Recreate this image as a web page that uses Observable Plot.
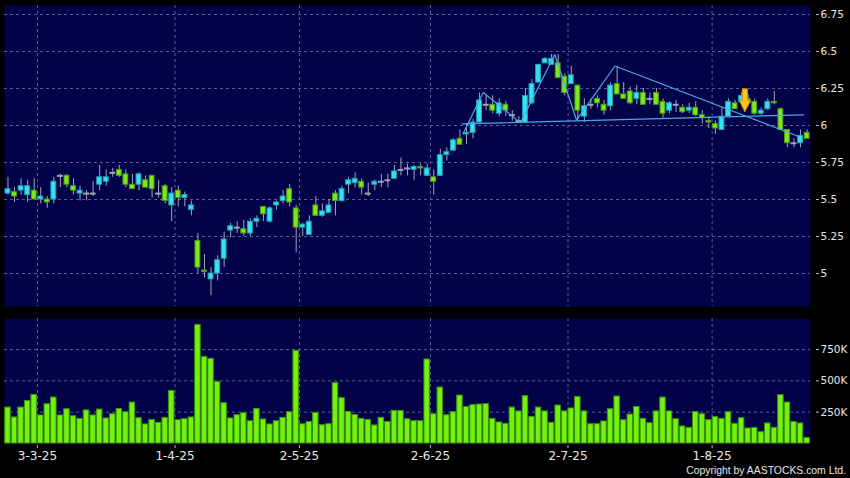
<!DOCTYPE html>
<html><head><meta charset="utf-8">
<script src="https://cdn.jsdelivr.net/npm/d3@7"></script>
<script src="https://cdn.jsdelivr.net/npm/@observablehq/plot@0.6"></script>
<style>
html,body{margin:0;padding:0;background:#000;}
#wrap{position:relative;width:850px;height:478px;background:#000;overflow:hidden;font-family:"DejaVu Sans",sans-serif;}
#wrap > svg{display:block;}
#copy{position:absolute;right:4px;top:464px;font-family:"Liberation Sans",Arial,sans-serif;font-size:10.4px;line-height:13px;color:#e6e6e6;white-space:nowrap;}
</style></head><body><div id="wrap"></div>
<script>
// ---- data (index 0 = 24-2-25 ... 122 = 21-8-25) ----
const open  = [5.54,5.55,5.56,5.53,5.56,5.50,5.50,5.50,5.66,5.66,5.59,5.54,5.54,5.54,5.60,5.62,5.68,5.70,5.67,5.60,5.60,5.63,5.66,5.54,5.59,5.46,5.56,5.51,5.43,5.22,5.02,4.96,5.00,5.10,5.29,5.31,5.30,5.27,5.35,5.45,5.35,5.46,5.49,5.57,5.44,5.31,5.26,5.46,5.39,5.41,5.54,5.49,5.60,5.61,5.62,5.54,5.60,5.62,5.63,5.64,5.70,5.71,5.70,5.72,5.66,5.65,5.66,5.80,5.83,5.91,5.94,5.95,6.02,6.14,6.14,6.08,6.14,6.07,6.03,6.02,6.15,6.29,6.42,6.41,6.42,6.33,6.28,6.27,6.06,6.14,6.18,6.14,6.13,6.28,6.21,6.23,6.18,6.22,6.18,6.22,6.16,6.10,6.14,6.12,6.10,6.12,6.07,6.03,6.01,5.97,6.06,6.15,6.16,6.18,6.16,6.08,6.11,6.16,6.11,5.97,5.88,5.88,5.95];
const high  = [5.65,5.58,5.64,5.63,5.64,5.58,5.52,5.65,5.67,5.67,5.64,5.59,5.56,5.62,5.73,5.70,5.71,5.73,5.70,5.67,5.68,5.66,5.66,5.63,5.60,5.58,5.59,5.55,5.49,5.27,5.13,5.04,5.12,5.28,5.34,5.35,5.36,5.37,5.39,5.45,5.45,5.49,5.56,5.60,5.46,5.34,5.39,5.52,5.47,5.50,5.56,5.59,5.65,5.68,5.64,5.61,5.63,5.67,5.67,5.73,5.78,5.74,5.73,5.74,5.74,5.70,5.84,5.85,5.91,5.97,6.01,6.04,6.22,6.20,6.20,6.18,6.16,6.10,6.06,6.25,6.31,6.41,6.46,6.48,6.48,6.35,6.40,6.27,6.18,6.18,6.20,6.17,6.29,6.40,6.29,6.26,6.27,6.25,6.22,6.25,6.18,6.16,6.17,6.14,6.15,6.16,6.10,6.06,6.03,6.12,6.18,6.17,6.22,6.21,6.18,6.12,6.18,6.23,6.12,5.97,5.91,5.97,5.97];
const low   = [5.53,5.48,5.53,5.48,5.50,5.47,5.44,5.47,5.58,5.58,5.53,5.49,5.49,5.52,5.56,5.59,5.65,5.65,5.58,5.57,5.56,5.58,5.51,5.51,5.47,5.35,5.45,5.45,5.39,5.00,4.97,4.85,4.95,5.04,5.24,5.27,5.25,5.25,5.31,5.35,5.34,5.43,5.47,5.45,5.14,5.25,5.26,5.39,5.38,5.41,5.39,5.48,5.54,5.58,5.53,5.52,5.56,5.58,5.58,5.64,5.66,5.66,5.63,5.66,5.66,5.53,5.66,5.76,5.83,5.87,5.87,5.91,6.02,6.10,6.08,6.06,6.06,6.03,6.02,6.02,6.14,6.29,6.42,6.41,6.32,6.20,6.28,6.04,6.02,6.11,6.12,6.07,6.10,6.21,6.18,6.14,6.14,6.14,6.14,6.14,6.05,6.08,6.09,6.08,6.08,6.06,6.01,5.98,5.94,5.97,6.06,6.11,6.14,6.13,6.07,6.07,6.10,6.14,5.97,5.85,5.85,5.85,5.91];
const close = [5.57,5.52,5.59,5.59,5.50,5.52,5.48,5.62,5.66,5.60,5.56,5.56,5.54,5.54,5.65,5.65,5.68,5.66,5.60,5.57,5.67,5.58,5.57,5.54,5.49,5.54,5.51,5.53,5.46,5.04,5.01,5.00,5.09,5.23,5.32,5.31,5.27,5.35,5.37,5.40,5.44,5.48,5.52,5.48,5.31,5.33,5.35,5.39,5.42,5.46,5.49,5.57,5.63,5.64,5.58,5.54,5.62,5.62,5.63,5.69,5.70,5.71,5.72,5.71,5.71,5.62,5.80,5.82,5.90,5.87,5.95,6.02,6.17,6.14,6.10,6.15,6.10,6.07,6.03,6.20,6.28,6.41,6.45,6.45,6.32,6.22,6.34,6.10,6.13,6.14,6.15,6.10,6.27,6.21,6.18,6.15,6.22,6.14,6.18,6.14,6.08,6.15,6.14,6.09,6.12,6.07,6.05,6.02,5.98,6.06,6.16,6.11,6.20,6.15,6.08,6.10,6.16,6.15,5.97,5.88,5.88,5.93,5.91];
const volumeK = [287,208,287,340,388,224,314,367,224,274,218,197,264,224,271,200,234,276,250,327,202,152,188,165,205,420,186,194,208,947,692,676,492,322,200,226,242,178,276,192,152,178,205,250,740,154,172,244,146,154,482,362,252,228,197,188,144,205,172,260,260,194,178,178,671,234,447,226,250,383,292,306,311,314,197,168,157,287,256,378,212,287,256,165,303,256,280,372,256,154,154,176,274,375,186,231,292,197,162,256,367,256,194,136,125,252,234,186,212,197,250,157,202,120,125,90,160,125,386,327,172,160,45];

const tickIndex  = [5, 26, 45, 65, 86, 108];
const tickLabels = ["3-3-25", "1-4-25", "2-5-25", "2-6-25", "2-7-25", "1-8-25"];
const priceTicks = [5, 5.25, 5.5, 5.75, 6, 6.25, 6.5, 6.75];
const volTicks   = [250000, 500000, 750000];

// pattern annotation lines (index, price)
const zigX  = [69.47, 72.55, 78.24, 83.48, 86.8, 92.67, 120.7];
const zigY  = [5.944, 6.223, 6.018, 6.480, 6.037, 6.402, 5.926];
const neckX = [69.34, 121.5];
const neckY = [6.011, 6.072];
const arrowX = [112.5];
const arrowY = [6.17];

// ---- build ----
const NAVY = "#020249", GRID = "#5b5b98", WICK = "#a4a4b4";
const CYAN = "#35e2f2", CYAN_E = "#1f9fb6", GREEN = "#7ee81f", GREEN_E = "#4d9914";
const bars = open.map((o, i) => ({i, o, h: high[i], l: low[i], c: close[i], v: volumeK[i] * 1000}));
const ups = bars.filter(d => d.c > d.o);
const downs = bars.filter(d => d.c < d.o);
const dojis = bars.filter(d => d.c === d.o);
const zig = zigX.map((x, k) => ({x, y: zigY[k]}));
const neck = neckX.map((x, k) => ({x, y: neckY[k]}));
const arrows = arrowX.map((x, k) => ({x, y: arrowY[k]}));
const gridPos = tickIndex.map(t => t - 0.5);
const xDomain = [-0.53, 122.52];

const arrowSymbol = {
  draw(ctx) {
    ctx.moveTo(-2.6, -11.5); ctx.lineTo(2.6, -11.5); ctx.lineTo(2.6, 0);
    ctx.lineTo(5.6, 0); ctx.lineTo(0, 11.5); ctx.lineTo(-5.6, 0);
    ctx.lineTo(-2.6, 0); ctx.closePath();
  }
};

const baseStyle = {background: "transparent", color: "#e6e6e6", fontFamily: "DejaVu Sans", fontSize: "10.5px", overflow: "visible"};

const topChart = Plot.plot({
  width: 850, height: 312,
  marginTop: 5, marginBottom: 6, marginLeft: 4, marginRight: 40,
  style: baseStyle,
  x: {domain: xDomain, axis: null},
  y: {domain: [4.777, 6.811], axis: null},
  marks: [
    Plot.frame({fill: NAVY, stroke: null}),
    Plot.gridY(priceTicks, {stroke: GRID, strokeOpacity: 1, strokeDasharray: "3,3"}),
    Plot.gridX(gridPos, {stroke: GRID, strokeOpacity: 1, strokeDasharray: "3,3"}),
    Plot.axisY(priceTicks, {anchor: "right", label: null, tickSize: 3, tickPadding: 2, dx: 5, stroke: "#b8b8b8", tickFormat: d => String(d)}),
    Plot.ruleX(bars, {x: "i", y1: "l", y2: "h", stroke: WICK, strokeWidth: 1}),
    Plot.rect(ups, {x1: d => d.i - 0.37, x2: d => d.i + 0.37, y1: "o", y2: "c", fill: CYAN, stroke: CYAN_E, strokeWidth: 1}),
    Plot.rect(downs, {x1: d => d.i - 0.37, x2: d => d.i + 0.37, y1: "o", y2: "c", fill: GREEN, stroke: GREEN_E, strokeWidth: 1}),
    Plot.ruleY(dojis, {y: "o", x1: d => d.i - 0.45, x2: d => d.i + 0.45, stroke: WICK, strokeWidth: 2}),
    Plot.line(zig, {x: "x", y: "y", stroke: "#4aa8e6", strokeWidth: 1.2}),
    Plot.line(neck, {x: "x", y: "y", stroke: "#4aa8e6", strokeWidth: 1.2}),
    Plot.dot(arrows, {x: "x", y: "y", symbol: arrowSymbol, r: 5, fill: "#ffc81a", stroke: "#d88a00", strokeWidth: 1})
  ]
});

const bottomChart = Plot.plot({
  width: 850, height: 166,
  marginTop: 6, marginBottom: 35, marginLeft: 4, marginRight: 40,
  style: baseStyle,
  x: {domain: xDomain, axis: null},
  y: {domain: [0, 998000], axis: null},
  marks: [
    Plot.frame({fill: NAVY, stroke: null}),
    Plot.gridY(volTicks, {stroke: GRID, strokeOpacity: 1, strokeDasharray: "3,3"}),
    Plot.gridX(gridPos, {stroke: GRID, strokeOpacity: 1, strokeDasharray: "3,3"}),
    Plot.rectY(bars, {x1: d => d.i - 0.42, x2: d => d.i + 0.42, y: "v", fill: "#72f20f", stroke: "#3f900a", strokeWidth: 1}),
    Plot.axisY(volTicks, {anchor: "right", label: null, tickSize: 3, tickPadding: 2, dx: 5, stroke: "#b8b8b8", tickFormat: d => (d / 1000) + "K"}),
    Plot.axisX(gridPos, {anchor: "bottom", label: null, tickSize: 3, tickPadding: 3, dy: 2, stroke: "#b8b8b8", fontSize: 12, tickFormat: (d, k) => tickLabels[k]})
  ]
});

const wrap = document.getElementById("wrap");
wrap.appendChild(topChart);
wrap.appendChild(bottomChart);

const copy = document.createElement("div");
copy.id = "copy";
copy.textContent = "Copyright by AASTOCKS.com Ltd.";
wrap.appendChild(copy);
</script>
</body></html>
